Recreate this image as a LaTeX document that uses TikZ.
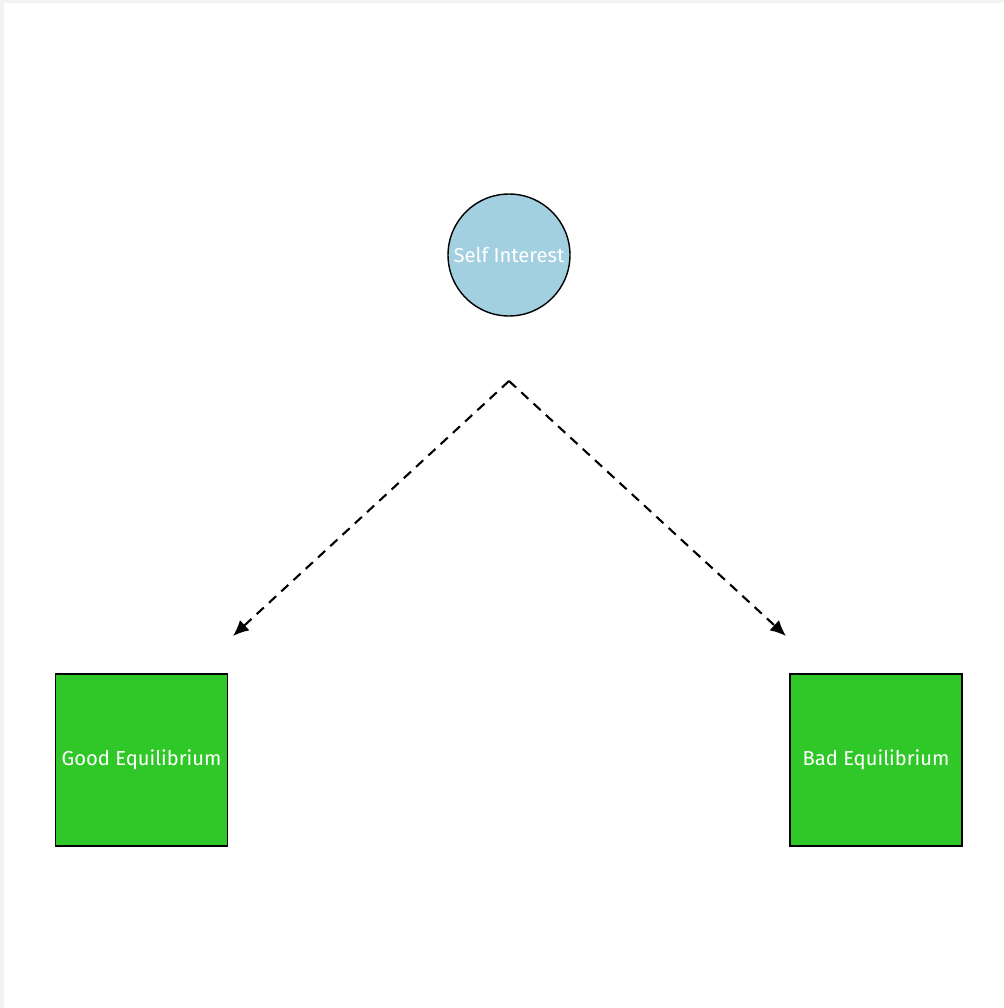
\documentclass[tikz,border=0pt]{standalone}
\usepackage{fontspec}
\setmainfont{Fira Sans}
\usetikzlibrary{arrows.meta,positioning}

\definecolor{selfblue}{HTML}{A2D0E0}
\definecolor{eqgreen}{HTML}{30C828}
\definecolor{pagegrey}{HTML}{F3F3F3}

\begin{document}
\begin{tikzpicture}[x=0.02cm,y=-0.02cm,
      circ/.style={circle,draw,line width=0.8pt,fill=selfblue,minimum size=2.44cm,inner sep=0pt,text=white,font=\fontsize{11.5}{14}\selectfont},
      eqbox/.style={rectangle,draw,line width=0.8pt,fill=eqgreen,minimum size=3.44cm,inner sep=0pt,text=white,font=\fontsize{11.5}{14}\selectfont},
      arr/.style={-{Latex[length=9pt,width=8pt]},line width=1.2pt,dash pattern=on 5.5pt off 4pt}
    ]
      % page
      \fill[pagegrey] (0,0) rectangle (1004,1008);
      \fill[white] (4,3) rectangle (1004,1008);
      \useasboundingbox (0,0) rectangle (1004,1008);

      % nodes
      \node[circ] (self) at (509,255) {Self Interest};
      \node[eqbox] (good) at (141.5,760) {Good Equilibrium};
      \node[eqbox] (bad) at (876,760) {Bad Equilibrium};

      % arrows
      \coordinate (apex) at (509,381);
      \coordinate (goodtip) at (233,636);
      \coordinate (badtip) at (786,636);
      \draw[arr] (apex) -- (goodtip);
      \draw[arr] (apex) -- (badtip);
    \end{tikzpicture}
\end{document}
